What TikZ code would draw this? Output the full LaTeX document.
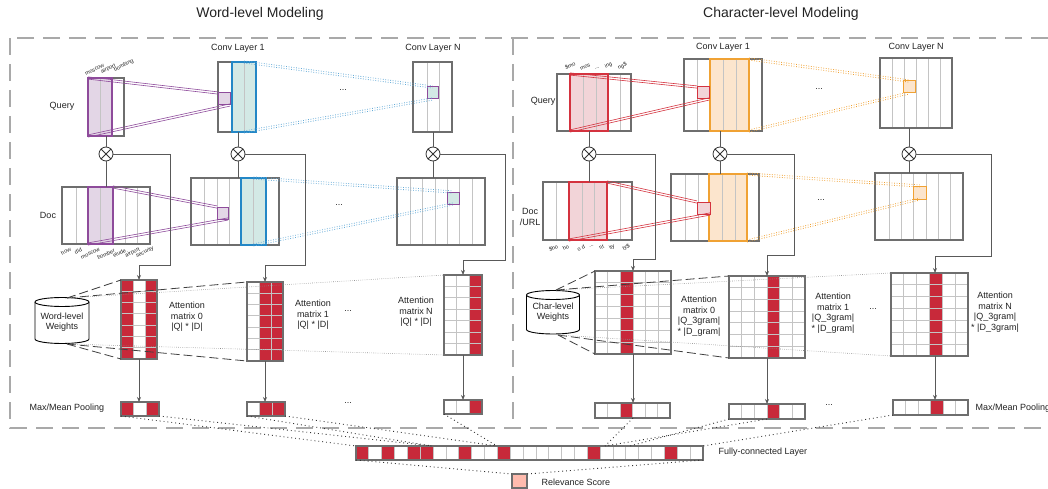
\documentclass[tikz,border=0pt]{standalone}
\usepackage{fontspec}
\setmainfont{Liberation Sans}
\usetikzlibrary{arrows.meta,calc}
\definecolor{boxgray}{HTML}{6E6E6E}
\definecolor{gridgray}{HTML}{C4C4C4}
\definecolor{framegray}{HTML}{A9A9A9}
\definecolor{purp}{HTML}{8E4B9B}
\definecolor{purpfill}{HTML}{E3D6E6}
\definecolor{blu}{HTML}{2387C6}
\definecolor{blufill}{HTML}{D3E9E5}
\definecolor{crim}{HTML}{C8293A}
\definecolor{pinkfill}{HTML}{F2D4D8}
\definecolor{redline}{HTML}{D4333F}
\definecolor{orng}{HTML}{F0A234}
\definecolor{orfill}{HTML}{FCE5CD}
\definecolor{salmon}{HTML}{FFBBAE}
\definecolor{txt}{HTML}{222222}
\newcommand{\rectnode}[6]{\node[#1, inner sep=0pt, outer sep=0pt, minimum width={(#5-#3)*1pt}, minimum height={(#6-#4)*1pt}] (#2) at ({(#3+#5)/2},{(#4+#6)/2}) {};}
\newcommand{\amat}[8]{%
  \pgfmathsetmacro\mxdx{(#4-#2)/#6}%
  \pgfmathsetmacro\mxdy{(#5-#3)/#7}%
  \foreach \ci in {#8}{\fill[crim] ({#2+\ci*\mxdx},#3) rectangle ({#2+(\ci+1)*\mxdx},#5);}%
  \pgfmathtruncatemacro\mxnc{#6-1}%
  \foreach \kk in {1,...,\mxnc}{\draw[gl] ({#2+\kk*\mxdx},#3) -- ({#2+\kk*\mxdx},#5);}%
  \pgfmathtruncatemacro\mxnr{#7-1}%
  \ifnum\mxnr>0 \foreach \kk in {1,...,\mxnr}{\draw[gl] (#2,{#3+\kk*\mxdy}) -- (#4,{#3+\kk*\mxdy});}\fi
  \rectnode{box}{#1}{#2}{#3}{#4}{#5}}
\newcommand{\twin}[3]{\draw[#1] ([yshift=1.1pt]#2) -- ([yshift=1.1pt]#3); \draw[#1] ([yshift=-1.1pt]#2) -- ([yshift=-1.1pt]#3);}
\newcommand{\otnode}[3]{\node[otm] (#1) at (#2,#3) {}; \draw[otx] (#1.north west) -- (#1.south east) (#1.north east) -- (#1.south west);}
\newcommand{\cylshape}[5]{%
  \filldraw[cyl] ({#1-#4},#2) -- ({#1-#4},#3) arc[start angle=180,end angle=360,x radius=#4pt,y radius=#5pt] -- ({#1+#4},#2) arc[start angle=0,end angle=180,x radius=#4pt,y radius=#5pt] -- cycle;
  \draw[cyl] ({#1-#4},#2) arc[start angle=180,end angle=360,x radius=#4pt,y radius=#5pt];}
\begin{document}
\begin{tikzpicture}[x=1pt,y=-1pt,
  every node/.style={font=\fontsize{9}{10.5}\selectfont, text=txt},
  ttl/.style={font=\fontsize{14}{16}\selectfont},
  sml/.style={font=\fontsize{5.5}{6.5}\selectfont, inner sep=0.3pt, rotate=25},
  lab/.style={align=center},
  box/.style={draw=boxgray, line width=1.8pt},
  gl/.style={draw=gridgray, line width=0.8pt},
  selp/.style={draw=purp, line width=1.2pt},
  selb/.style={draw=blu, line width=1.2pt},
  selr/.style={draw=redline, line width=1.2pt},
  selo/.style={draw=orng, line width=1.2pt},
  sqp/.style={draw=purp, fill=purpfill, line width=1pt},
  sqpb/.style={draw=purp, fill=blufill, line width=1pt},
  sqr/.style={draw=redline, fill=pinkfill, line width=1pt},
  sqo/.style={draw=orng, fill=orfill, line width=1pt},
  relst/.style={draw=boxgray, fill=salmon, line width=1.5pt},
  frame/.style={draw=framegray, line width=1.8pt, dash pattern=on 17pt off 9pt},
  pl/.style={draw=purp, line width=0.6pt},
  rl/.style={draw=redline, line width=0.6pt},
  bd/.style={draw=blu!70, line width=0.8pt, dash pattern=on 0.8pt off 1.7pt},
  od/.style={draw=orng, line width=0.8pt, dash pattern=on 0.8pt off 1.7pt},
  fdot/.style={draw=black!80, line width=0.9pt, dash pattern=on 0.9pt off 3pt},
  cdot/.style={draw=black!45, line width=0.6pt, dash pattern=on 0.6pt off 1.5pt},
  cdash/.style={draw=black!75, line width=0.8pt, dash pattern=on 9pt off 4pt},
  cn/.style={draw=black!65, line width=0.9pt},
  arr/.style={cn, -{Stealth[length=5pt,width=4pt]}},
  otm/.style={circle, draw=black!80, line width=0.8pt, minimum size=14pt, inner sep=0pt, fill=white},
  otx/.style={draw=black!80, line width=0.8pt},
  cyl/.style={draw=black, fill=white, line width=0.9pt}
]
\useasboundingbox (0,0) rectangle (1048,489);
% titles and frame
\node[ttl] (tw) at (260,14) {Word-level Modeling};
\node[ttl] (tc) at (781,14) {Character-level Modeling};
\draw[frame] (10,38) rectangle (1062,428);
\draw[frame] (513,38) -- (513,428);

% ================= WORD LEVEL =================
% query
\fill[purpfill] (88,78) rectangle (112,136);
\draw[gl] (100,78) -- (100,136);
\rectnode{box}{wq}{88}{78}{124}{136}
\rectnode{selp}{wqs}{88}{78}{112}{136}
\node (wqlab) at (62,106) {Query};
\node[sml, anchor=south west] (wqw1) at (86,76) {moscow};
\node[sml, anchor=south west] (wqw2) at (102,75) {airport};
\node[sml, anchor=south west] (wqw3) at (115,73) {bombing};
% conv1 query
\fill[blufill] (232,62) rectangle (256,132);
\draw[gl] (244,62) -- (244,132);
\rectnode{box}{wc1q}{218}{62}{256}{132}
\rectnode{selb}{wc1qs}{232}{62}{256}{132}
\rectnode{sqp}{wsq1}{218}{93}{230}{105}
\node (wcl1) at (238,48) {Conv Layer 1};
% convN query
\foreach \x in {427,439} \draw[gl] (\x,62) -- (\x,132);
\rectnode{box}{wcNq}{413}{62}{452}{132}
\rectnode{sqpb}{wsq3}{427}{87}{438}{99}
\node (wcln) at (433,48) {Conv Layer N};
\node (wdots1) at (343,90) {...};
% doc
\fill[purpfill] (88,187) rectangle (113,244);
\foreach \x in {76,100,125,137} \draw[gl] (\x,187) -- (\x,244);
\rectnode{box}{wd}{62}{187}{150}{244}
\rectnode{selp}{wds}{88}{187}{113}{244}
\node (wdlab) at (48,215) {Doc};
\node[sml, anchor=east] (wdw1) at (71,249) {how};
\node[sml, anchor=east] (wdw2) at (82,249) {did};
\node[sml, anchor=east] (wdw3) at (100,249) {moscow};
\node[sml, anchor=east] (wdw4) at (115,250) {bomber};
\node[sml, anchor=east] (wdw5) at (126,250) {elude};
\node[sml, anchor=east] (wdw6) at (140,249) {airport};
\node[sml, anchor=east] (wdw7) at (154,248) {security};
% conv1 doc
\fill[blufill] (241,178) rectangle (266,245);
\foreach \x in {204,217,229,253} \draw[gl] (\x,178) -- (\x,245);
\rectnode{box}{wc1d}{191}{178}{279}{245}
\rectnode{selb}{wc1ds}{241}{178}{266}{245}
\rectnode{sqp}{wsq2}{217}{207}{228}{219}
% convN doc
\foreach \x in {410,422,435,447,459,472} \draw[gl] (\x,178) -- (\x,245);
\rectnode{box}{wcNd}{397}{178}{485}{245}
\rectnode{sqpb}{wsq4}{447}{192}{459}{204}
\node (wdots2) at (339,205) {...};
% purple connectors
\twin{pl}{wqs.north west}{wsq1.north west}
\twin{pl}{wqs.south west}{wsq1.south east}
\twin{pl}{wds.north east}{wsq2.north west}
\twin{pl}{wds.south west}{wsq2.south east}
% blue dotted connectors
\twin{bd}{wc1qs.north}{wsq3.north}
\twin{bd}{wc1qs.south}{wsq3.south}
\twin{bd}{wc1ds.north}{wsq4.north}
\twin{bd}{wc1ds.south}{wsq4.south}
% otimes
\otnode{wo1}{106}{154}
\otnode{wo2}{238}{154}
\otnode{wo3}{433}{154}
\draw[cn] (wo1.north) -- (wo1.north |- wq.south);
\draw[cn] (wo1.south) -- (wo1.south |- wd.north);
\draw[cn] (wo2.north) -- (wo2.north |- wc1q.south);
\draw[cn] (wo2.south) -- (wo2.south |- wc1d.north);
\draw[cn] (wo3.north) -- (wo3.north |- wcNq.south);
\draw[cn] (wo3.south) -- (wo3.south |- wcNd.north);
% attention matrices
\amat{wm0}{121}{280}{157}{359}{3}{7}{0,2}
\amat{wm1}{247}{282}{283}{361}{3}{7}{1,2}
\amat{wmN}{444}{275}{482}{355}{3}{7}{2}
\amat{wp0}{121}{402}{159}{416}{3}{1}{0,2}
\amat{wp1}{247}{402}{285}{416}{3}{1}{1,2}
\amat{wpN}{444}{400}{482}{414}{3}{1}{2}
\coordinate (wk1) at (170,265);
\coordinate (wk2) at (305,265);
\coordinate (wk3) at (505,260);
\draw[arr] (wo1.east) -| (wk1) -| (wm0.north);
\draw[arr] (wo2.east) -| (wk2) -| (wm1.north);
\draw[arr] (wo3.east) -| (wk3) -| (wmN.north);
\draw[arr] (wm0.south) -- (wm0.south |- wp0.north);
\draw[arr] (wm1.south) -- (wm1.south |- wp1.north);
\draw[arr] (wmN.south) -- (wmN.south |- wpN.north);
\node (wa0) [lab] at (187,317) {Attention\\matrix 0\\|Q| * |D|};
\node (wa1) [lab] at (313,315) {Attention\\matrix 1\\|Q| * |D|};
\node (wdots3) at (348,311) {...};
\node (waN) [lab] at (416,312) {Attention\\matrix N\\|Q| * |D|};
\node (wdots4) at (348,403) {...};
\node (wpool) at (67,408) {Max/Mean Pooling};
% weights cylinder
\cylshape{62}{302}{339}{27}{4.5}
\node (wwt) [lab] at (62,322) {Word-level\\Weights};
\coordinate (wct) at (67,298);
\coordinate (wcb) at (67,344);
\draw[cdash] (wct) -- (wm0.north west);
\draw[cdash] (wct) -- (wm1.north west);
\draw[cdot] (wct) -- (wmN.north west);
\draw[cdash] (wcb) -- (wm0.south west);
\draw[cdash] (wcb) -- (wm1.south west);
\draw[cdot] (wcb) -- (wmN.south west);

% ================= CHARACTER LEVEL =================
% query
\fill[pinkfill] (570,74) rectangle (608,131);
\foreach \x in {570,583,596,608,620} \draw[gl] (\x,74) -- (\x,131);
\rectnode{box}{cq}{557}{74}{631}{131}
\rectnode{selr}{cqs}{570}{74}{608}{131}
\node (cqlab) at (543,101) {Query};
\node[sml, anchor=south west] (cqw1) at (566,71) {\$mo};
\node[sml, anchor=south west] (cqw2) at (581,71) {mos};
\node[sml, anchor=south west] (cqw3) at (595,70) {...};
\node[sml, anchor=south west] (cqw4) at (606,70) {ing};
\node[sml, anchor=south west] (cqw5) at (619,71) {ng\$};
% conv1 query
\fill[orfill] (710,59) rectangle (749,131);
\foreach \x in {697,710,723,736,749} \draw[gl] (\x,59) -- (\x,131);
\rectnode{box}{cc1q}{684}{59}{762}{131}
\rectnode{selo}{cc1qs}{710}{59}{749}{131}
\rectnode{sqr}{csq1}{697}{87}{709}{99}
\node (ccl1) at (723,47) {Conv Layer 1};
% convN query
\foreach \x in {892,904,916,928,940} \draw[gl] (\x,58) -- (\x,128);
\rectnode{box}{cNq}{880}{58}{952}{128}
\rectnode{sqo}{csq3}{903}{81}{915}{93}
\node (ccln) at (916,47) {Conv Layer N};
\node (cdots1) at (819,89) {...};
% doc
\fill[pinkfill] (569,182) rectangle (607,240);
\foreach \x in {556,569,582,594,607,620} \draw[gl] (\x,182) -- (\x,240);
\rectnode{box}{cd}{543}{182}{632}{240}
\rectnode{selr}{cds}{569}{182}{607}{240}
\node (cdlab) [lab] at (530,217) {Doc\\/URL};
\node[sml, anchor=east] (cdw1) at (558,246) {\$ho};
\node[sml, anchor=east] (cdw2) at (569,246) {ho};
\node[sml, anchor=east] (cdw3) at (585,246) {o d};
\node[sml, anchor=east] (cdw4) at (594,245) {...};
\node[sml, anchor=east] (cdw5) at (604,246) {rit};
\node[sml, anchor=east] (cdw6) at (615,246) {ity};
\node[sml, anchor=east] (cdw7) at (630,246) {ty\$};
% conv1 doc
\fill[orfill] (709,174) rectangle (747,241);
\foreach \x in {685,698,709,722,735,747} \draw[gl] (\x,174) -- (\x,241);
\rectnode{box}{cc1d}{671}{174}{759}{241}
\rectnode{selo}{cc1ds}{709}{174}{747}{241}
\rectnode{sqr}{csq2}{697}{202}{710}{214}
% convN doc
\foreach \x in {889,901,913,926,938,950} \draw[gl] (\x,173) -- (\x,240);
\rectnode{box}{cNd}{875}{173}{963}{240}
\rectnode{sqo}{csq4}{913}{186}{926}{199}
\node (cdots2) at (821,200) {...};
% red connectors
\twin{rl}{cqs.north west}{csq1.north west}
\twin{rl}{cqs.south west}{csq1.south east}
\twin{rl}{cds.north east}{csq2.north west}
\twin{rl}{cds.south west}{csq2.south east}
% orange dotted connectors
\twin{od}{cc1qs.north east}{csq3.north}
\twin{od}{cc1qs.south east}{csq3.south}
\twin{od}{cc1ds.north east}{csq4.north}
\twin{od}{cc1ds.south east}{csq4.south}
% otimes
\otnode{co1}{589}{154}
\otnode{co2}{720}{154}
\otnode{co3}{909}{154}
\draw[cn] (co1.north) -- (co1.north |- cq.south);
\draw[cn] (co1.south) -- (co1.south |- cd.north);
\draw[cn] (co2.north) -- (co2.north |- cc1q.south);
\draw[cn] (co2.south) -- (co2.south |- cc1d.north);
\draw[cn] (co3.north) -- (co3.north |- cNq.south);
\draw[cn] (co3.south) -- (co3.south |- cNd.north);
% attention matrices
\amat{cm0}{595}{271}{671}{354}{6}{7}{2}
\amat{cm1}{729}{276}{805}{358}{6}{7}{3}
\amat{cmN}{891}{273}{968}{356}{6}{7}{3}
\amat{cp0}{595}{403}{670}{418}{6}{1}{2}
\amat{cp1}{729}{404}{805}{419}{6}{1}{3}
\amat{cpN}{893}{400}{968}{415}{6}{1}{3}
\coordinate (ck1) at (655,259);
\coordinate (ck2) at (794,255);
\coordinate (ck3) at (991,256);
\coordinate (cmNin) at (935,273);
\draw[arr] (co1.east) -| (ck1) -| (cm0.north);
\draw[arr] (co2.east) -| (ck2) -| (cm1.north);
\draw[arr] (co3.east) -| (ck3) -| (cmNin);
\draw[arr] (cm0.south) -- (cm0.south |- cp0.north);
\draw[arr] (cm1.south) -- (cm1.south |- cp1.north);
\draw[arr] (cmNin |- cmN.south) -- (cmNin |- cpN.north);
\node (ca0) [lab] at (699,316) {Attention\\matrix 0\\|Q\_3gram|\\* |D\_gram|};
\node (ca1) [lab] at (833,313) {Attention\\matrix 1\\|Q\_3gram|\\* |D\_gram|};
\node (cdots3) at (873,309) {...};
\node (caN) [lab] at (995,312) {Attention\\matrix N\\|Q\_3gram|\\* |D\_3gram|};
\node (cdots4) at (829,405) {...};
\node[anchor=west] (cpool) at (972,408) {Max/Mean Pooling};
% weights cylinder
\cylshape{553}{295}{329.5}{26.5}{4.5}
\node (cwt) [lab] at (553,312) {Char-level\\Weights};
\coordinate (cct) at (556,290);
\coordinate (ccb) at (558,335);
\draw[cdash] (cct) -- (cm0.north west);
\draw[cdash] (cct) -- (cm1.north west);
\draw[cdot] (cct) -- (cmN.north west);
\draw[cdash] (ccb) -- (cm0.south west);
\draw[cdash] (ccb) -- (cm1.south west);
\draw[cdot] (ccb) -- (cmN.south west);

% ================= FC + relevance =================
\amat{fc}{356}{446}{703}{460}{27}{1}{0,2,4,5,8,11,18,24}
\node[anchor=west] (fclab) at (715,452) {Fully-connected Layer};
\rectnode{relst}{rel}{512}{474}{527}{488}
\node[anchor=west] (rellab) at (538,482) {Relevance Score};
\draw[fdot] (fc.south west) -- (rel.north west);
\draw[fdot] (fc.south east) -- (rel.north east);
\coordinate (f1) at (432,446);
\coordinate (f2) at (497,446);
\coordinate (f3) at (605,446);
\coordinate (f4) at (630,446);
\coordinate (cp0r) at (633,418);
\coordinate (cp1r) at (767,419);
\draw[fdot] (wp0.south west) -- (fc.north west);
\draw[fdot] (wp0.south east) -- (f1);
\draw[fdot] (wp1.south west) -- (f1);
\draw[fdot] (wp1.south east) -- (f2);
\draw[fdot] (wpN.south west) -- (f2);
\draw[fdot] (cp0r) -- (f3);
\draw[fdot] (cp1r) -- (f3);
\draw[fdot] (cp1.south west) -- (f4);
\draw[fdot] (cpN.south west) -- (fc.north east);
\end{tikzpicture}
\end{document}
